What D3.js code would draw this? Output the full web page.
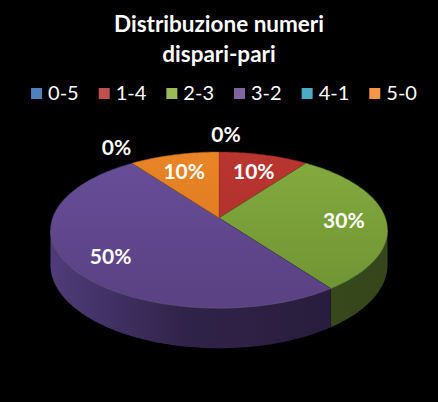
<!DOCTYPE html>
<html>
<head>
<meta charset="utf-8">
<script src="https://cdn.jsdelivr.net/npm/d3@7"></script>
<style>
  body { margin: 0; background: #000; }
  text { font-family: Lato, "Open Sans", sans-serif; fill: #fff; }
</style>
</head>
<body>
<div id="chart"></div>
<script>
var categories = ["0-5", "1-4", "2-3", "3-2", "4-1", "5-0"]
var values = [0, 10, 30, 50, 0, 10]
var pctLabels = ["0%", "10%", "30%", "50%", "0%", "10%"]
var legendColors = ["#4f81bd", "#c0504d", "#9bbb59", "#8064a2", "#4bacc6", "#f79646"]
var topLight = ["#4a7ab4", "#bb3631", "#86ad40", "#6a4f9b", "#43a6c2", "#ea8626"]
var topDark = ["#3c679c", "#a92d29", "#6f9433", "#5a4284", "#3591aa", "#d8771d"]
var sideLight = ["#2f5080", "#7a2420", "#4f6826", "#4f3c7a", "#2b6f84", "#9a5618"]
var sideDark = ["#1e3454", "#4e1614", "#34461a", "#261b38", "#1b4856", "#633810"]

var width = 438, height = 402

var svg = d3.select("#chart")
    .append("svg")
    .attr("width", width)
    .attr("height", height)

svg.append("rect")
    .attr("width", width)
    .attr("height", height)
    .attr("fill", "#000")

// title
var title = svg.append("text")
    .attr("text-anchor", "middle")
    .attr("font-weight", "bold")
    .attr("font-size", 22.5)
title.append("tspan").attr("x", 219).attr("y", 32).text("Distribuzione numeri")
title.append("tspan").attr("x", 219).attr("y", 62).text("dispari-pari")

// legend
var legend = svg.append("g")
var lx = 0
categories.forEach(function (c, i) {
    var g = legend.append("g").attr("transform", "translate(" + lx + ",0)")
    g.append("rect")
        .attr("x", 0).attr("y", -12)
        .attr("width", 11).attr("height", 11)
        .attr("fill", legendColors[i])
    var t = g.append("text")
        .attr("x", 17).attr("y", 0)
        .attr("font-size", 20)
        .text(c)
    lx += 17 + t.node().getComputedTextLength() + 20
})
lx -= 20
legend.attr("transform", "translate(" + (224 - lx / 2) + ",100)")

// perspective pie
var cx = 219, cy = 218
var k = 0.154, A = 166.5, B = 76.2, depth = 34

function proj(theta, r) {
    var u = r * Math.sin(theta), v = -r * Math.cos(theta)
    var w = 1 - k * v
    return [cx + A * u / w, cy + B * v / w, w]
}

var pie = d3.pie().sort(null).value(function (d) { return d })
var arcs = pie(values)

var line = d3.line()

function arcPoints(a0, a1, r) {
    var n = Math.max(2, Math.ceil((a1 - a0) / 0.02))
    return d3.range(n + 1).map(function (j) { return proj(a0 + (a1 - a0) * j / n, r) })
}

// visible rim lies between the two silhouette points
var rimStart = Math.acos(-k), rimEnd = 2 * Math.PI - Math.acos(-k)
var leftX = proj(rimEnd, 1)[0], rightX = proj(rimStart, 1)[0]

var defs = svg.append("defs")

arcs.forEach(function (a, i) {
    var s = Math.max(a.startAngle, rimStart), e = Math.min(a.endAngle, rimEnd)
    if (e <= s) return
    var top = arcPoints(s, e, 1)
    var bottom = top.map(function (p) { return [p[0], p[1] + depth / p[2]] }).reverse()
    var grad = defs.append("linearGradient").attr("id", "side" + i)
        .attr("gradientUnits", "userSpaceOnUse")
        .attr("x1", leftX).attr("x2", rightX).attr("y1", 0).attr("y2", 0)
    grad.append("stop").attr("offset", "0").attr("stop-color", sideLight[i])
    grad.append("stop").attr("offset", "0.4").attr("stop-color", d3.interpolateRgb(sideLight[i], sideDark[i])(0.75))
    grad.append("stop").attr("offset", "1").attr("stop-color", sideDark[i])
    svg.append("path")
        .attr("d", line(top.concat(bottom).map(function (p) { return [p[0], p[1]] })) + "Z")
        .attr("fill", "url(#side" + i + ")")
})

arcs.forEach(function (a, i) {
    if (a.endAngle - a.startAngle <= 0) return
    var grad = defs.append("linearGradient").attr("id", "top" + i)
        .attr("gradientUnits", "userSpaceOnUse")
        .attr("x1", 0).attr("x2", 0).attr("y1", cy - B).attr("y2", cy + B)
    grad.append("stop").attr("offset", "0").attr("stop-color", topLight[i])
    grad.append("stop").attr("offset", "1").attr("stop-color", topDark[i])
    var pts = [proj(0, 0)].concat(arcPoints(a.startAngle, a.endAngle, 1))
    svg.append("path")
        .attr("d", line(pts.map(function (p) { return [p[0], p[1]] })) + "Z")
        .attr("fill", "url(#top" + i + ")")
        .attr("stroke", d3.color(topDark[i]).darker(1))
        .attr("stroke-width", 0.5)
})

// faint highlight on the front edge of the top face
svg.append("path")
    .attr("d", line(arcPoints(rimStart, rimEnd, 1).map(function (p) { return [p[0], p[1]] })))
    .attr("fill", "none")
    .attr("stroke", "rgba(255,255,255,0.15)")
    .attr("stroke-width", 1)

// data labels: inside for real slices, just outside the rim for empty ones
arcs.forEach(function (a, i) {
    var mid = (a.startAngle + a.endAngle) / 2
    var inside = values[i] > 0
    var p = proj(mid, inside ? 0.75 : 1.3)
    svg.append("text")
        .attr("x", p[0] + (inside ? 0 : 7)).attr("y", p[1] + (inside ? 3 : -1))
        .attr("dy", "0.35em")
        .attr("text-anchor", "middle")
        .attr("font-weight", "bold")
        .attr("font-size", 21)
        .text(pctLabels[i])
})
</script>
</body>
</html>
